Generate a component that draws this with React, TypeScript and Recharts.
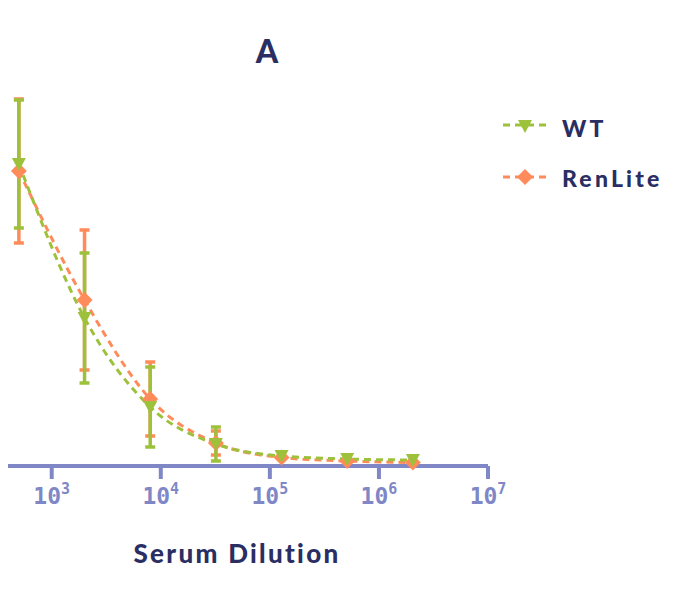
import React from 'react';
import { LineChart, Line, XAxis, YAxis, ErrorBar, Legend } from 'recharts';

const dilutions = [500, 2000, 8000, 32000, 128000, 512000, 2048000];
const wtMean = [302, 148, 59, 22, 10, 7, 6];
const wtErr = [64, 65, 40, 17, 0, 0, 0];
const renMean = [295, 166, 67, 23, 8.5, 5, 3.5];
const renErr = [72, 70, 37, 12, 0, 0, 0];
const xTicks = [1e3, 1e4, 1e5, 1e6, 1e7];

const data = dilutions.map((d, i) => ({
  dilution: d,
  wt: wtMean[i],
  wtErr: wtErr[i],
  ren: renMean[i],
  renErr: renErr[i],
}));

const GREEN = '#9dc13b';
const ORANGE = '#ff8b5a';
const AXIS = '#7f87c6';
const NAVY = '#2a2e63';
const FONT = 'Lato, "Open Sans", sans-serif';

const TriDown = ({ cx, cy }: { cx: number; cy: number }) => (
  <polygon points={`${cx - 7},${cy - 6} ${cx + 7},${cy - 6} ${cx},${cy + 7}`} fill={GREEN} />
);

const Diamond = ({ cx, cy }: { cx: number; cy: number }) => (
  <polygon points={`${cx},${cy - 8} ${cx + 8},${cy} ${cx},${cy + 8} ${cx - 8},${cy}`} fill={ORANGE} />
);

const PowerTick = (props: any) => {
  const { x, y, payload } = props;
  const exp = Math.round(Math.log10(payload.value));
  return (
    <text x={x} y={y} dy={21} textAnchor="middle" fill={AXIS} fontFamily='"DejaVu Sans Mono", monospace' fontWeight="bold" fontSize={23}>
      <tspan>10</tspan>
      <tspan fontSize={15} dy={-10}>{exp}</tspan>
    </text>
  );
};

const renderLegend = () => (
  <svg width={190} height={100}>
    <line x1={3} y1={25} x2={46} y2={25} stroke={GREEN} strokeWidth={3} strokeDasharray="7 5" />
    <TriDown cx={25} cy={26} />
    <text x={62} y={37} fill={NAVY} fontFamily={FONT} fontWeight={900} fontSize={23} letterSpacing={3.2}>WT</text>
    <line x1={3} y1={77} x2={46} y2={77} stroke={ORANGE} strokeWidth={3} strokeDasharray="7 5" />
    <Diamond cx={25} cy={77} />
    <text x={62} y={87} fill={NAVY} fontFamily={FONT} fontWeight={900} fontSize={23} letterSpacing={3.2}>RenLite</text>
  </svg>
);

export default function App() {
  return (
    <div style={{ position: 'relative', width: 690, height: 602, margin: '-8px 0 0 -8px', background: '#fff' }}>
      <svg width={690} height={80} style={{ position: 'absolute', left: 0, top: 0, pointerEvents: 'none' }}>
        <text x={267} y={63} textAnchor="middle" fill={NAVY} fontFamily={FONT} fontWeight={900} fontSize={32}>A</text>
      </svg>
      <LineChart width={690} height={602} data={data} margin={{ top: 66, right: 202, bottom: 0, left: 0 }}>
        <XAxis
          dataKey="dilution"
          type="number"
          scale="log"
          domain={[335.7, 1e7]}
          allowDataOverflow
          ticks={xTicks}
          tick={<PowerTick />}
          tickSize={13}
          tickMargin={4}
          height={136}
          stroke={AXIS}
          axisLine={{ stroke: AXIS, strokeWidth: 4 }}
          tickLine={{ stroke: AXIS, strokeWidth: 4 }}
          label={{
            value: 'Serum Dilution',
            position: 'insideBottom',
            offset: 39,
            dx: -7,
            fill: NAVY,
            fontSize: 26,
            fontWeight: 900,
            fontFamily: FONT,
            letterSpacing: 2.3,
          }}
        />
        <YAxis hide type="number" domain={[0, 400]} />
        <Legend
          layout="vertical"
          verticalAlign="middle"
          align="center"
          content={renderLegend}
          wrapperStyle={{ position: 'absolute', left: 500, top: 100, width: 190, height: 100 }}
        />
        <Line dataKey="ren" stroke="none" dot={false} activeDot={false} legendType="none" isAnimationActive={false}>
          <ErrorBar dataKey="renErr" direction="y" width={5} stroke={ORANGE} strokeWidth={3.5} isAnimationActive={false} />
        </Line>
        <Line dataKey="wt" stroke="none" dot={false} activeDot={false} legendType="none" isAnimationActive={false}>
          <ErrorBar dataKey="wtErr" direction="y" width={5} stroke={GREEN} strokeWidth={3.5} isAnimationActive={false} />
        </Line>
        <Line
          type="monotone"
          dataKey="ren"
          stroke={ORANGE}
          strokeWidth={3}
          strokeDasharray="7 5"
          dot={(p: any) => <Diamond key={`ren-${p.index}`} cx={p.cx} cy={p.cy} />}
          activeDot={false}
          isAnimationActive={false}
        />
        <Line
          type="monotone"
          dataKey="wt"
          stroke={GREEN}
          strokeWidth={3}
          strokeDasharray="7 5"
          dot={(p: any) => <TriDown key={`wt-${p.index}`} cx={p.cx} cy={p.cy} />}
          activeDot={false}
          isAnimationActive={false}
        />
      </LineChart>
    </div>
  );
}
